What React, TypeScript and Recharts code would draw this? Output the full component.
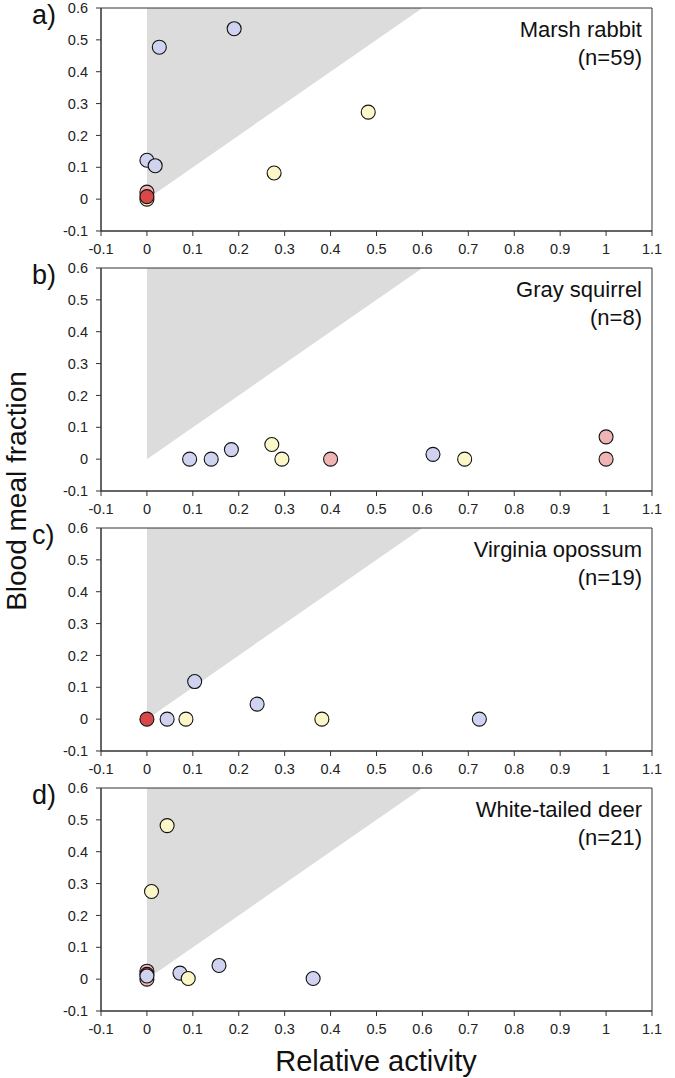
import React from "react";
import { ScatterChart, Scatter, XAxis, YAxis, ReferenceArea } from "recharts";

const FONT = '"Liberation Sans", Arial, Helvetica, sans-serif';

// tick values
const xTicks = [-0.1, 0, 0.1, 0.2, 0.3, 0.4, 0.5, 0.6, 0.7, 0.8, 0.9, 1, 1.1];
const yTicks = [-0.1, 0, 0.1, 0.2, 0.3, 0.4, 0.5, 0.6];

// shaded region: x from 0 to 0.6, y from 0 to 0.6 (upper-left triangle)
const shade = { x1: 0, x2: 0.6, y1: 0, y2: 0.6 };

// points, in drawing order. c = colour group
const rabbitPoints = [
  { x: 0.19, y: 0.535, c: "blue" },
  { x: 0.027, y: 0.477, c: "blue" },
  { x: 0.0, y: 0.122, c: "blue" },
  { x: 0.018, y: 0.105, c: "blue" },
  { x: 0.277, y: 0.082, c: "yellow" },
  { x: 0.482, y: 0.273, c: "yellow" },
  { x: 0.0, y: 0.0, c: "yellow" },
  { x: 0.0, y: 0.022, c: "pink" },
  { x: 0.0, y: 0.008, c: "red" },
];

const squirrelPoints = [
  { x: 0.093, y: 0.0, c: "blue" },
  { x: 0.14, y: 0.0, c: "blue" },
  { x: 0.184, y: 0.03, c: "blue" },
  { x: 0.272, y: 0.046, c: "yellow" },
  { x: 0.294, y: 0.0, c: "yellow" },
  { x: 0.4, y: 0.0, c: "pink" },
  { x: 0.623, y: 0.015, c: "blue" },
  { x: 0.692, y: 0.0, c: "yellow" },
  { x: 1.0, y: 0.07, c: "pink" },
  { x: 1.0, y: 0.0, c: "pink" },
];

const opossumPoints = [
  { x: 0.0, y: 0.0, c: "red" },
  { x: 0.044, y: 0.0, c: "blue" },
  { x: 0.085, y: 0.0, c: "yellow" },
  { x: 0.104, y: 0.118, c: "blue" },
  { x: 0.24, y: 0.047, c: "blue" },
  { x: 0.381, y: 0.0, c: "yellow" },
  { x: 0.724, y: 0.0, c: "blue" },
];

const deerPoints = [
  { x: 0.044, y: 0.482, c: "yellow" },
  { x: 0.01, y: 0.275, c: "yellow" },
  { x: 0.0, y: 0.025, c: "pink" },
  { x: 0.0, y: 0.015, c: "red" },
  { x: 0.0, y: 0.0, c: "pink" },
  { x: 0.0, y: 0.01, c: "blue" },
  { x: 0.072, y: 0.019, c: "blue" },
  { x: 0.09, y: 0.002, c: "yellow" },
  { x: 0.157, y: 0.043, c: "blue" },
  { x: 0.362, y: 0.002, c: "blue" },
];

const letters = ["a)", "b)", "c)", "d)"];
const species = ["Marsh rabbit", "Gray squirrel", "Virginia opossum", "White-tailed deer"];
const counts = ["(n=59)", "(n=8)", "(n=19)", "(n=21)"];
const pointSets = [rabbitPoints, squirrelPoints, opossumPoints, deerPoints];

const COLORS: Record<string, string> = {
  blue: "#cfd3f0",
  yellow: "#fbf7c8",
  pink: "#efb4b4",
  red: "#d84848",
};

const PANEL_H = 260;
const TOP = 8;
const fmt = (v: number) => String(Math.round(v * 10) / 10);

const Triangle = (p: any) => (
  <polygon
    points={`${p.x},${p.y + p.height} ${p.x},${p.y} ${p.x + p.width},${p.y}`}
    fill="#dcdcdc"
  />
);

const Dot = (p: any) => (
  <circle cx={p.cx} cy={p.cy} r={7} fill={COLORS[p.payload.c]} stroke="#111" strokeWidth={1.1} />
);

const tickStyle = { fill: "#222", fontSize: 14.5, fontFamily: FONT };

const Panel = ({ data }: { data: any[] }) => (
  <ScatterChart width={675} height={PANEL_H} margin={{ top: TOP, right: 23, bottom: 0, left: 0 }}>
    <XAxis
      type="number"
      dataKey="x"
      domain={[-0.1, 1.1]}
      ticks={xTicks}
      tickFormatter={fmt}
      allowDataOverflow
      height={29}
      tickSize={5}
      tickMargin={8}
      stroke="#333"
      tick={tickStyle}
      interval={0}
    />
    <YAxis
      type="number"
      dataKey="y"
      domain={[-0.1, 0.6]}
      ticks={yTicks}
      tickFormatter={fmt}
      allowDataOverflow
      width={101}
      tickSize={5}
      tickMargin={8}
      stroke="#333"
      tick={tickStyle}
      interval={0}
    />
    <ReferenceArea {...shade} shape={Triangle} />
    <ReferenceArea x1={-0.1} x2={1.1} y1={-0.1} y2={0.6} fill="none" stroke="#333" strokeWidth={1} fillOpacity={0} />
    <Scatter data={data} dataKey="y" shape={Dot} isAnimationActive={false} />
  </ScatterChart>
);

export default function App() {
  return (
    <div style={{ position: "absolute", left: 0, top: 0, width: 675, height: 1078, background: "#fff" }}>
      {pointSets.map((pts, i) => (
        <div key={i} style={{ position: "absolute", left: 0, top: i * PANEL_H }}>
          <Panel data={pts} />
        </div>
      ))}
      <svg
        width={675}
        height={1078}
        style={{ position: "absolute", left: 0, top: 0, pointerEvents: "none" }}
        fontFamily={FONT}
      >
        {letters.map((l, i) => (
          <text key={l} x={32} y={TOP + i * PANEL_H + 16} fontSize={27} fill="#111">
            {l}
          </text>
        ))}
        {species.map((s, i) => (
          <g key={s}>
            <text x={642} y={TOP + i * PANEL_H + 29} fontSize={22} textAnchor="end" fill="#111">
              {s}
            </text>
            <text x={642} y={TOP + i * PANEL_H + 57} fontSize={22} textAnchor="end" fill="#111">
              {counts[i]}
            </text>
          </g>
        ))}
        <text transform="translate(26,491) rotate(-90)" textAnchor="middle" fontSize={28} fill="#111">
          Blood meal fraction
        </text>
        <text x={376} y={1071} textAnchor="middle" fontSize={29} fill="#111">
          Relative activity
        </text>
      </svg>
    </div>
  );
}
